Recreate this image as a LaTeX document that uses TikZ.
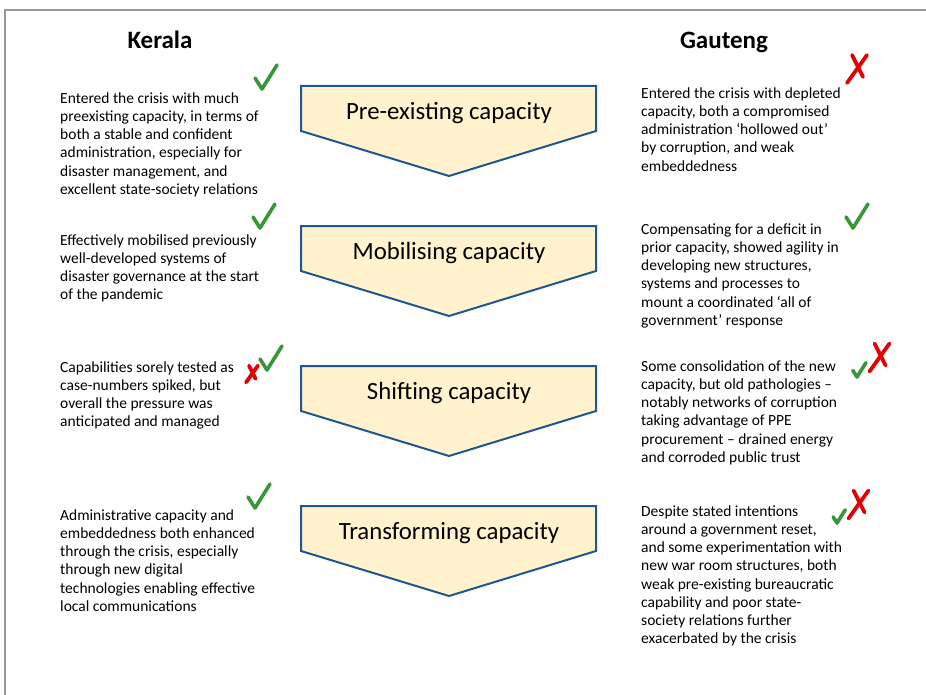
\documentclass[tikz,border=0pt]{standalone}
\usepackage{fontspec}
\setmainfont{Carlito}
\begin{document}
\begin{tikzpicture}[x=1pt,y=-1pt,
  frameline/.style={draw=black!40,line width=1.2pt},
  stagearrow/.style={draw=arrowblue,fill=arrowfill,line width=2pt,line join=miter},
  stagelabel/.style={anchor=base,inner sep=0pt,font=\fontsize{24.8}{29}\selectfont},
  heading/.style={anchor=base,inner sep=0pt,font=\fontsize{25}{29}\selectfont\bfseries},
  bodytext/.style={anchor=north west,inner sep=0pt,align=left,font=\fontsize{15.5}{18.25}\selectfont},
  okstroke/.style={draw=okgreen,line width=3.6pt,line cap=round,line join=round},
  badstroke/.style={draw=badred,line width=3.8pt,line cap=round,line join=round},
  chkmark/.pic={\draw[okstroke] (-7,-11) -- (0,0) -- (15,-24);},
  crossmark/.pic={\draw[badstroke] (-5,-14) -- (6,8); \draw[badstroke] (10,-14) -- (-10,14);}
]
\definecolor{arrowblue}{RGB}{31,85,145}
\definecolor{arrowfill}{RGB}{255,242,204}
\definecolor{okgreen}{RGB}{58,150,58}
\definecolor{badred}{RGB}{226,0,0}
\useasboundingbox (0,0) rectangle (926,695);
\fill[white] (0,0) rectangle (926,695);
% frame
\draw[frameline] (5,695) -- (5,10) -- (926,10);
% headings
\node[heading] (kerala) at (160,49) {Kerala};
\node[heading] (gauteng) at (724,49) {Gauteng};
% stage arrows
\foreach \T/\nm/\txt in {86/a1/Pre-existing capacity,226/a2/Mobilising capacity,366/a3/Shifting capacity,506/a4/Transforming capacity}{
  \draw[stagearrow] (301,\T) -- (596,\T) -- (596,\T+45) -- (449,\T+90) -- (301,\T+45) -- cycle;
  \node[stagelabel] (\nm) at (449,\T+33.5) {\txt};
}
% left texts (first baseline minus strut height 12.775)
\node[bodytext] (k1) at (60,103-12.775) {\strut Entered the crisis with much\\preexisting capacity, in terms of\\both a stable and confident\\administration, especially for\\disaster management, and\\excellent state-society relations};
\node[bodytext] (k2) at (60,245-12.775) {\strut Effectively mobilised previously\\well-developed systems of\\disaster governance at the start\\of the pandemic};
\node[bodytext] (k3) at (60,372-12.775) {\strut Capabilities sorely tested as\\case-numbers spiked, but\\overall the pressure was\\anticipated and managed};
\node[bodytext] (k4) at (60,520-12.775) {\strut Administrative capacity and\\embeddedness both enhanced\\through the crisis, especially\\through new digital\\technologies enabling effective\\local communications};
% right texts
\node[bodytext] (g1) at (641,98-12.775) {\strut Entered the crisis with depleted\\capacity, both a compromised\\administration ‘hollowed out’\\by corruption, and weak\\embeddedness};
\node[bodytext] (g2) at (641,234-12.775) {\strut Compensating for a deficit in\\prior capacity, showed agility in\\developing new structures,\\systems and processes to\\mount a coordinated ‘all of\\government’ response};
\node[bodytext] (g3) at (641,371-12.775) {\strut Some consolidation of the new\\capacity, but old pathologies –\\notably networks of corruption\\taking advantage of PPE\\procurement – drained energy\\and corroded public trust};
\node[bodytext] (g4) at (641,516-12.775) {\strut Despite stated intentions\\around a government reset,\\and some experimentation with\\new war room structures, both\\weak pre-existing bureaucratic\\capability and poor state-\\society relations further\\exacerbated by the crisis};
% marks, left
\pic at (262,89) {chkmark};
\pic at (260,228) {chkmark};
\pic at (267,370) {chkmark};
\pic[scale=0.6] at (252,374) {crossmark};
\pic at (255,508) {chkmark};
% marks, right
\pic at (857,69) {crossmark};
\pic at (853,228) {chkmark};
\pic[scale=0.6] at (857,377) {chkmark};
\pic at (879.5,357.5) {crossmark};
\pic[scale=0.55] at (837,523) {chkmark};
\pic at (858.5,504.5) {crossmark};
\end{tikzpicture}
\end{document}
